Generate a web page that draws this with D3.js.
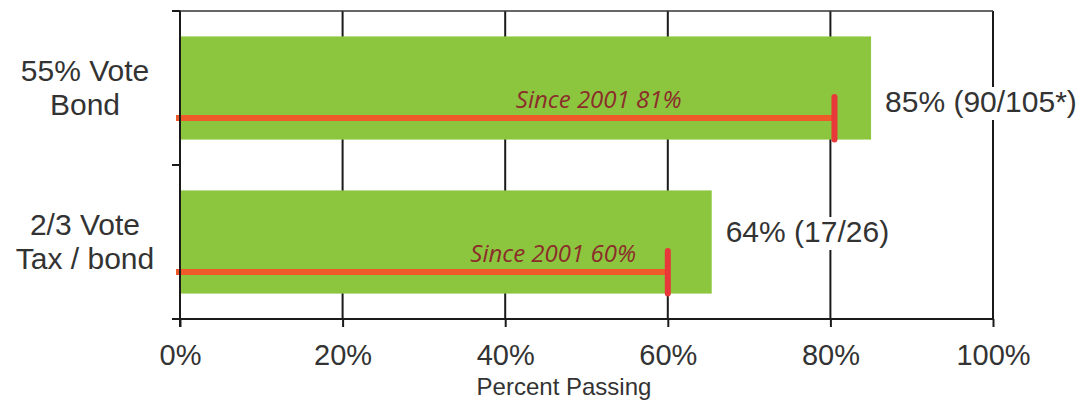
<!DOCTYPE html>
<html>
<head>
<meta charset="utf-8">
<script src="https://cdn.jsdelivr.net/npm/d3@7"></script>
<style>
  html, body { margin: 0; padding: 0; background: #fff; }
  svg { display: block; }
</style>
</head>
<body>
<svg id="chart" width="1079" height="402"></svg>
<script>
// ---- data ----
const categories = [["55% Vote", "Bond"], ["2/3 Vote", "Tax / bond"]];
const categoryKeys = ["bond55", "tax23"];
const passRates = [85, 65.4];            // bar length (percent passing)
const sinceRates = [80.5, 60];           // "Since 2001" marker value
const valueLabels = ["85% (90/105*)", "64% (17/26)"];
const sinceLabels = ["Since 2001 81%", "Since 2001 60%"];
const xTicks = [0, 20, 40, 60, 80, 100];
const xTitle = "Percent Passing";

// ---- layout ----
const svg = d3.select("#chart");
const pLeft = 180, pRight = 993, pTop = 11, pBottom = 319;
const sinceLabelAt = [51.5, 45.9];  // centre of "Since" label, in percent units
const valueLabelDy = [24, 0];
const font = "'Liberation Sans', Arial, sans-serif";
const textCol = "#333";

const x = d3.scaleLinear().domain([0, 100]).range([pLeft, pRight]);
const y = d3.scaleBand().domain(categoryKeys).range([pTop, pBottom])
  .paddingInner(0.33).paddingOuter(0.165);

// gridlines
svg.append("g").selectAll("line").data(xTicks.slice(1)).join("line")
  .attr("x1", d => x(d)).attr("x2", d => x(d))
  .attr("y1", pTop).attr("y2", pBottom)
  .attr("stroke", "#1a1a1a").attr("stroke-width", 2);

// top border
svg.append("line").attr("x1", pLeft - 8).attr("x2", pRight)
  .attr("y1", pTop).attr("y2", pTop)
  .attr("stroke", "#333").attr("stroke-width", 1.5);

// bars
svg.append("g").selectAll("rect").data(categoryKeys).join("rect")
  .attr("x", x(0)).attr("y", d => y(d))
  .attr("width", (d, i) => x(passRates[i]) - x(0))
  .attr("height", y.bandwidth())
  .attr("fill", "#8cc63f");

// value labels with white background
const vl = svg.append("g").selectAll("g").data(categoryKeys).join("g");
vl.each(function (d, i) {
  const g = d3.select(this);
  const t = g.append("text")
    .attr("x", x(passRates[i]) + 14)
    .attr("y", y(d) + y.bandwidth() / 2 + valueLabelDy[i])
    .attr("font-family", font).attr("font-size", 30)
    .attr("fill", textCol)
    .text(valueLabels[i]);
  const b = t.node().getBBox();
  g.insert("rect", "text")
    .attr("x", b.x - 2).attr("y", b.y + 2)
    .attr("width", b.width + 4).attr("height", b.height)
    .attr("fill", "#fff");
});

// since-2001 markers
const markY = d => y(d) + y.bandwidth() * 0.79;
svg.append("g").selectAll("line").data(categoryKeys).join("line")
  .attr("x1", x(0) - 4).attr("x2", (d, i) => x(sinceRates[i]))
  .attr("y1", markY).attr("y2", markY)
  .attr("stroke", "#ef5a2a").attr("stroke-width", 6);
svg.append("g").selectAll("line").data(categoryKeys).join("line")
  .attr("x1", (d, i) => x(sinceRates[i])).attr("x2", (d, i) => x(sinceRates[i]))
  .attr("y1", d => markY(d) - 21).attr("y2", d => y(d) + y.bandwidth())
  .attr("stroke", "#e8383a").attr("stroke-width", 6)
  .attr("stroke-linecap", "round");
svg.append("g").selectAll("text").data(categoryKeys).join("text")
  .attr("x", (d, i) => x(sinceLabelAt[i]))
  .attr("y", d => markY(d) - 10)
  .attr("text-anchor", "middle")
  .attr("font-family", "'Open Sans', sans-serif").attr("font-style", "italic")
  .attr("font-size", 24)
  .attr("fill", "#8b2d2a")
  .text((d, i) => sinceLabels[i]);

// axes
const xAxis = d3.axisBottom(x).tickValues(xTicks).tickSize(8).tickFormat(d => d + "%");
const gx = svg.append("g").attr("transform", `translate(0,${pBottom})`).call(xAxis);
gx.select(".domain").attr("stroke", "#1a1a1a").attr("stroke-width", 2)
  .attr("d", `M${pLeft - 8},0H${pRight}`);
gx.selectAll(".tick line").attr("stroke", "#1a1a1a").attr("stroke-width", 2);
gx.selectAll(".tick text").attr("font-family", font).attr("font-size", 29)
  .attr("fill", textCol).attr("dy", "1.22em");

// left axis line + ticks at band boundaries
svg.append("line").attr("x1", pLeft).attr("x2", pLeft)
  .attr("y1", pTop).attr("y2", pBottom + 8)
  .attr("stroke", "#1a1a1a").attr("stroke-width", 2);
const yBounds = [pTop, (y(categoryKeys[0]) + y.bandwidth() + y(categoryKeys[1])) / 2, pBottom];
svg.append("g").selectAll("line").data(yBounds).join("line")
  .attr("x1", pLeft - 8).attr("x2", pLeft)
  .attr("y1", d => d).attr("y2", d => d)
  .attr("stroke", "#1a1a1a").attr("stroke-width", 2);

// category labels
const cl = svg.append("g").selectAll("text").data(categoryKeys).join("text")
  .attr("text-anchor", "middle")
  .attr("font-family", font).attr("font-size", 30).attr("fill", textCol);
cl.each(function (d, i) {
  const cy = y(d) + y.bandwidth() / 2;
  d3.select(this).selectAll("tspan").data(categories[i]).join("tspan")
    .attr("x", 85)
    .attr("y", (t, j) => cy + (j === 0 ? -7 : 27))
    .text(t => t);
});

// x title
svg.append("text").attr("x", 564).attr("y", 395)
  .attr("text-anchor", "middle")
  .attr("font-family", font).attr("font-size", 24).attr("fill", textCol)
  .text(xTitle);
</script>
</body>
</html>
